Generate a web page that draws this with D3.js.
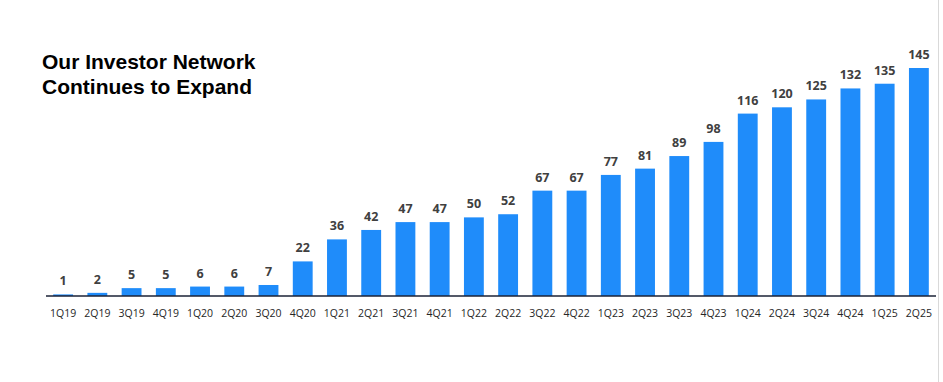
<!DOCTYPE html>
<html>
<head>
<meta charset="utf-8">
<script src="https://cdn.jsdelivr.net/npm/d3@7"></script>
<style>
  html, body { margin: 0; padding: 0; background: #fff; }
  svg { display: block; }
</style>
</head>
<body>
<script>
const categories = ["1Q19","2Q19","3Q19","4Q19","1Q20","2Q20","3Q20","4Q20","1Q21","2Q21","3Q21","4Q21","1Q22","2Q22","3Q22","4Q22","1Q23","2Q23","3Q23","4Q23","1Q24","2Q24","3Q24","4Q24","1Q25","2Q25"];
const values = [1,2,5,5,6,6,7,22,36,42,47,47,50,52,67,67,77,81,89,98,116,120,125,132,135,145];
const titleLines = ["Our Investor Network", "Continues to Expand"];

const W = 943, H = 382;
const svg = d3.select("body").append("svg").attr("width", W).attr("height", H);

const x = d3.scaleBand().domain(categories).range([46, 936]).paddingInner(0.42).paddingOuter(0.21);
const baseY = 296;
const y = d3.scaleLinear().domain([0, 145]).range([baseY, 68]);

// right edge line
svg.append("line").attr("x1", 938.5).attr("x2", 938.5).attr("y1", 0).attr("y2", H)
  .attr("stroke", "#d9d9d9").attr("stroke-width", 1);

// title
svg.append("text").attr("x", 42).attr("y", 68.5)
  .attr("font-family", "Liberation Sans, Arial, sans-serif").attr("font-weight", "bold")
  .attr("font-size", 21).attr("fill", "#000")
  .selectAll("tspan").data(titleLines).join("tspan")
  .attr("x", 42).attr("dy", (d, i) => i === 0 ? 0 : 25).text(d => d);

// bars
svg.append("g").selectAll("rect").data(values).join("rect")
  .attr("x", (d, i) => x(categories[i]))
  .attr("width", x.bandwidth())
  .attr("y", d => y(d))
  .attr("height", d => baseY - y(d))
  .attr("fill", "#1F8CFA");

// value labels
svg.append("g").selectAll("text").data(values).join("text")
  .attr("x", (d, i) => x(categories[i]) + x.bandwidth() / 2)
  .attr("y", d => y(d) - 9)
  .attr("text-anchor", "middle")
  .attr("font-family", "Open Sans, sans-serif").attr("font-weight", "bold")
  .attr("font-size", 12.5).attr("fill", "#404040")
  .text(d => d);

// axis
const axis = d3.axisBottom(x).tickSize(0).tickPadding(0);
const g = svg.append("g").attr("transform", `translate(0,${baseY})`).call(axis);
g.select(".domain").attr("stroke", "#1b2236").attr("stroke-width", 1.5).attr("d", "M46,0H936");
g.selectAll("text").attr("y", 20.5).attr("dy", 0)
  .attr("font-family", "Open Sans, sans-serif").attr("font-size", 10.5).attr("fill", "#262626");
</script>
</body>
</html>
